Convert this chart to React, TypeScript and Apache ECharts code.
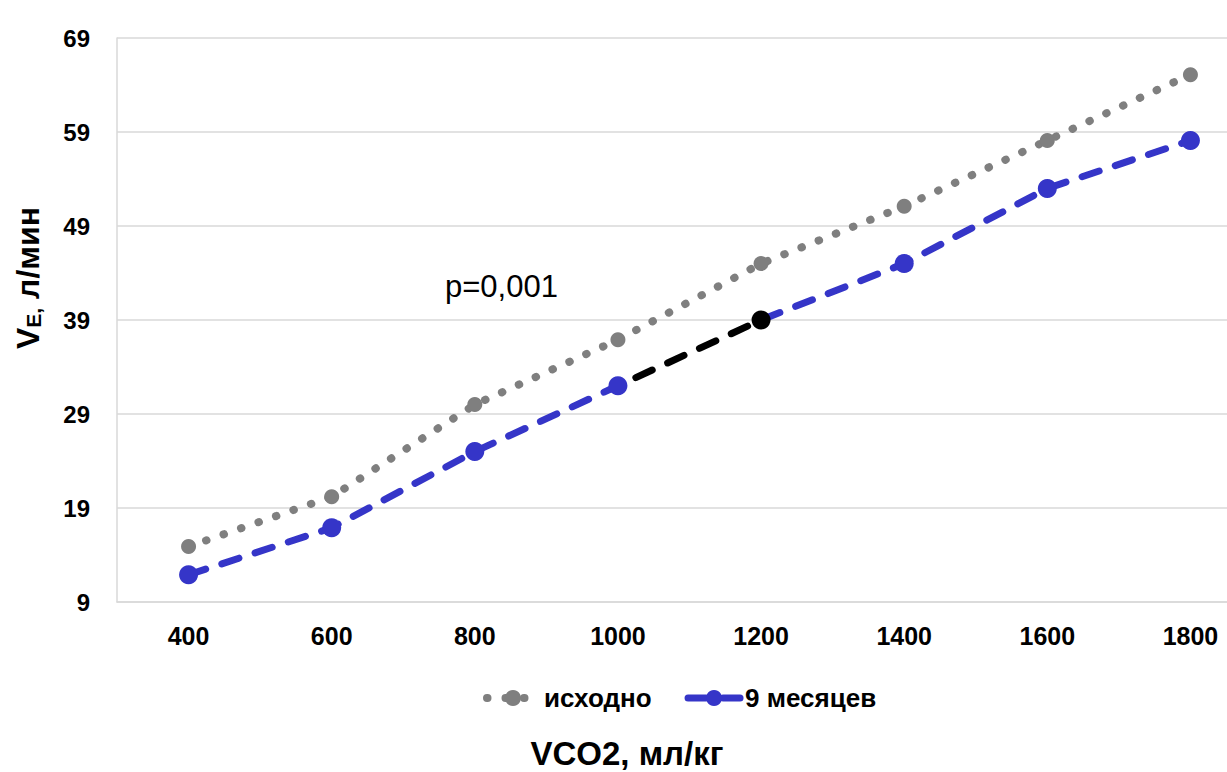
import React, { useEffect, useRef } from "react";
import * as echarts from "echarts";

const categories = ["400", "600", "800", "1000", "1200", "1400", "1600", "1800"];
const baseline = [14.9, 20.2, 30, 36.9, 45, 51.1, 58.1, 65.1];
const months9 = [11.9, 16.9, 25, 32, 39, 45, 53, 58.1];
const seriesNames = ["исходно", "9 месяцев"];
const yTicks = { min: 9, max: 69, step: 10 };

const FONT = "'Liberation Sans', Arial, sans-serif";
const GREY = "#7f7f7f";
const BLUE = "#3535c8";

export default function App() {
  const ref = useRef<HTMLDivElement>(null);
  useEffect(() => {
    if (!ref.current) return;
    const chart = echarts.init(ref.current, null, { renderer: "svg" });
    chart.setOption({
      animation: false,
      backgroundColor: "#ffffff",
      textStyle: { fontFamily: FONT },
      grid: { left: 117, top: 38, bottom: 170, right: 0, containLabel: false },
      xAxis: {
        type: "category",
        data: categories,
        boundaryGap: true,
        axisLine: { show: true, lineStyle: { color: "#d9d9d9", width: 1.5 } },
        axisTick: { show: false },
        axisLabel: { color: "#000", fontWeight: "bold", fontSize: 25, fontFamily: FONT, margin: 21 },
        splitLine: { show: false },
      },
      yAxis: {
        type: "value",
        min: yTicks.min,
        max: yTicks.max,
        interval: yTicks.step,
        axisLine: { show: true, lineStyle: { color: "#d9d9d9", width: 1.5 } },
        axisTick: { show: false },
        axisLabel: { color: "#000", fontWeight: "bold", fontSize: 24, fontFamily: FONT, margin: 27 },
        splitLine: { show: true, lineStyle: { color: "#d9d9d9", width: 1.5 } },
      },
      legend: {
        left: 478,
        top: 680,
        itemGap: 33,
        itemWidth: 52,
        itemHeight: 20,
        data: seriesNames,
        lineStyle: { width: "inherit" },
        textStyle: { color: "#000", fontWeight: "bold", fontSize: 26, fontFamily: FONT },
      },
      visualMap: {
        show: false,
        seriesIndex: 1,
        dimension: 0,
        pieces: [
          { lte: 3, color: BLUE },
          { gt: 3, lte: 4, color: "#000000" },
          { gt: 4, color: BLUE },
        ],
      },
      series: [
        {
          name: seriesNames[0],
          type: "line",
          data: baseline,
          symbol: "circle",
          symbolSize: 15,
          itemStyle: { color: GREY },
          lineStyle: { color: GREY, width: 8, type: [0.5, 18], cap: "round" },
          z: 2,
        },
        {
          name: seriesNames[1],
          type: "line",
          data: months9,
          symbol: "circle",
          symbolSize: 19,
          itemStyle: { color: BLUE },
          lineStyle: { width: 7, type: [18, 17], cap: "round" },
          z: 3,
        },
      ],
      graphic: [
        {
          type: "text",
          x: 445,
          y: 286,
          style: {
            text: "p=0,001",
            font: `31px ${FONT}`,
            fill: "#000",
            textAlign: "left",
            textVerticalAlign: "middle",
          },
        },
        {
          type: "text",
          x: 27,
          y: 278,
          rotation: Math.PI / 2,
          style: {
            text: "{v|V}{e|E,}{v| л/мин}",
            textAlign: "center",
            textVerticalAlign: "middle",
            fill: "#000",
            rich: {
              v: { fontSize: 32, fontWeight: "bold", fontFamily: FONT, lineHeight: 34, verticalAlign: "bottom" },
              e: { fontSize: 21, fontWeight: "bold", fontFamily: FONT, lineHeight: 12, verticalAlign: "bottom" },
            },
          },
        },
        {
          type: "text",
          x: 627,
          y: 753,
          style: {
            text: "VCO2, мл/кг",
            font: `bold 33px ${FONT}`,
            fill: "#000",
            textAlign: "center",
            textVerticalAlign: "middle",
          },
        },
      ],
    });
    return () => chart.dispose();
  }, []);
  return (
    <div style={{ position: "absolute", left: 0, top: 0, width: 1227, height: 772, overflow: "hidden" }}>
      <div ref={ref} style={{ width: 1262, height: 772 }} />
    </div>
  );
}
